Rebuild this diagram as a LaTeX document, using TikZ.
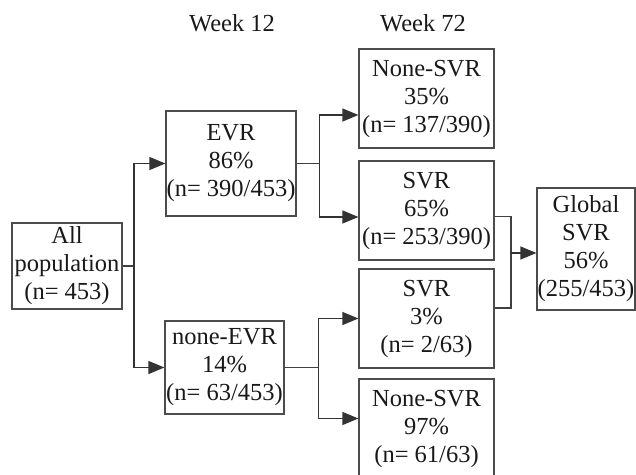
\documentclass[tikz,border=0pt]{standalone}
\usepackage{fontspec}
\setmainfont{Liberation Serif}
\usetikzlibrary{arrows.meta}
\begin{document}
\begin{tikzpicture}[x=1pt, y=-1pt, font=\fontsize{24.5}{28}\selectfont] % pixel-like units, y going down
\tikzstyle{box} = [draw=black!70, line width=1.2pt, text=black!90, align=center, inner sep=0pt]
\tikzstyle{arrow} = [-{Triangle[length=16pt, width=13pt]}, line width=1.2pt, draw=black!80]
\tikzstyle{line} = [line width=1.2pt, draw=black!75]
\tikzstyle{week} = [text=black!90]

\useasboundingbox (0,0) rectangle (636,474);

% Column headers
\node[week] (Week12) at (232,23) {Week 12};
\node[week] (Week72) at (423,23) {Week 72};

% Whole population
\node[box, minimum width=110pt, minimum height=86pt] (AllPop) at (67,266) {All\\population\\(n= 453)};

% Week 12 response
\node[box, minimum width=130pt, minimum height=105pt] (EVR) at (231,163.5) {EVR\\86\%\\(n= 390/453)};
\node[box, minimum width=119pt, minimum height=93pt] (NoneEVR) at (224.5,367.5) {none-EVR\\14\%\\(n= 63/453)};

% Week 72 response
\node[box, minimum width=135pt, minimum height=99pt] (NoneSVRa) at (426.5,98.5) {None-SVR\\35\%\\(n= 137/390)};
\node[box, minimum width=135pt, minimum height=99pt] (SVRa) at (426.5,210.5) {SVR\\65\%\\(n= 253/390)};
\node[box, minimum width=135pt, minimum height=99pt] (SVRb) at (426.5,318.5) {SVR\\3\%\\(n= 2/63)};
\node[box, minimum width=135pt, minimum height=99pt] (NoneSVRb) at (426.5,428.5) {None-SVR\\97\%\\(n= 61/63)};

% Overall outcome
\node[box, minimum width=98pt, minimum height=122pt] (GlobalSVR) at (586,249) {Global\\SVR\\56\%\\(255/453)};

% Split from the whole population
\coordinate (SplitA) at (134,266);
\draw[line] (AllPop.east) -- (SplitA);
\draw[arrow] (SplitA) |- (EVR.west);
\draw[arrow] (SplitA) |- (NoneEVR.west);

% Split after EVR
\draw[line] (EVR.east) -- ++(23,0) coordinate (SplitB);
\draw[arrow] (SplitB) |- ([yshift=-16.5pt]NoneSVRa.west);
\draw[arrow] (SplitB) |- ([yshift=-6.5pt]SVRa.west);

% Split after none-EVR
\draw[line] (NoneEVR.east) -- ++(34,0) coordinate (SplitC);
\draw[arrow] (SplitC) |- (SVRb.west);
\draw[arrow] (SplitC) |- ([yshift=10pt]NoneSVRb.west);

% Join of both SVR groups
\coordinate (Join) at (511,253);
\draw[line] ([yshift=-6pt]SVRa.east) -| (Join);
\draw[line] ([yshift=10.5pt]SVRb.east) -| (Join);
\draw[arrow] (Join) -- (Join -| GlobalSVR.west);

\end{tikzpicture}
\end{document}
